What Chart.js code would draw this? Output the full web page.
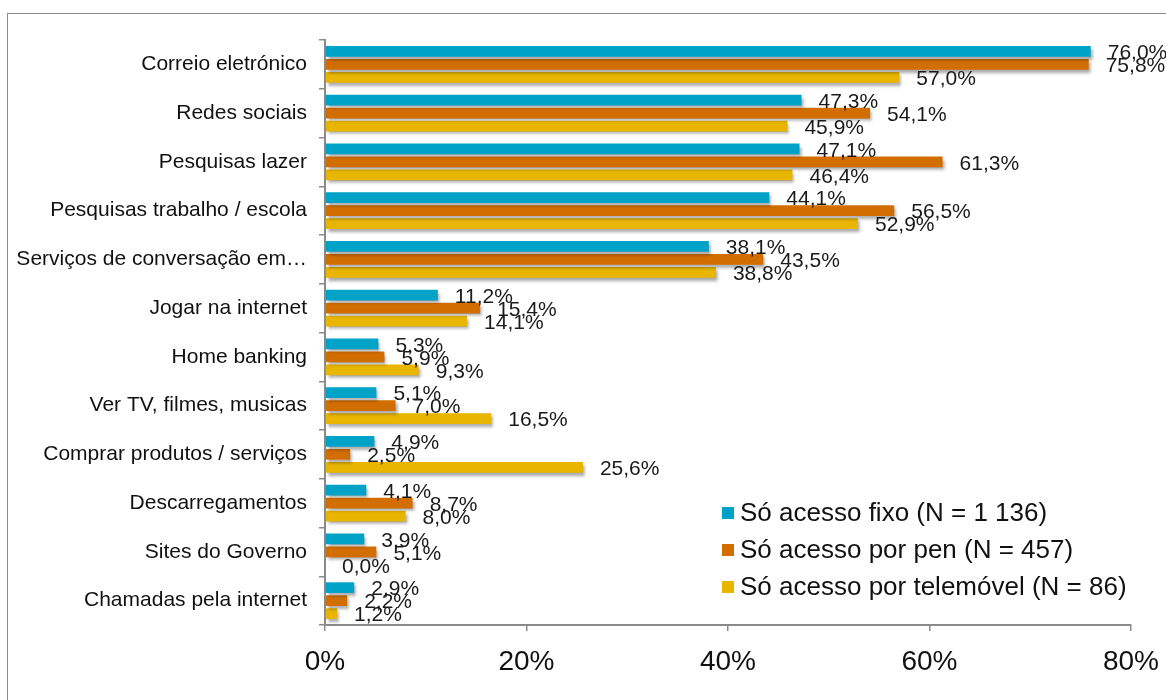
<!DOCTYPE html>
<html>
<head>
<meta charset="utf-8">
<script src="https://cdn.jsdelivr.net/npm/chart.js@4"></script>
<style>
  body { margin: 0; background: #fff; overflow: hidden; }
  #frame { position: absolute; left: 7px; top: 13px; width: 1200px; height: 720px;
           border-left: 1.5px solid #8a8a8a; border-top: 1.5px solid #8a8a8a; }
  #wrap { position: absolute; left: 0; top: 0; width: 1166px; height: 700px; }
</style>
</head>
<body>
<div id="frame"></div>
<div id="wrap"><canvas id="chart"></canvas></div>
<script>
// Usos da internet por tipo de acesso

const categories = [
  'Correio eletrónico',
  'Redes sociais',
  'Pesquisas lazer',
  'Pesquisas trabalho / escola',
  'Serviços de conversação em…',
  'Jogar na internet',
  'Home banking',
  'Ver TV, filmes, musicas',
  'Comprar produtos / serviços',
  'Descarregamentos',
  'Sites do Governo',
  'Chamadas pela internet',
];
const seriesNames = [
  'Só acesso fixo (N = 1 136)',
  'Só acesso por pen (N = 457)',
  'Só acesso por telemóvel (N = 86)',
];
const acessoFixo = [76.0, 47.3, 47.1, 44.1, 38.1, 11.2, 5.3, 5.1, 4.9, 4.1, 3.9, 2.9];
const acessoPen = [75.8, 54.1, 61.3, 56.5, 43.5, 15.4, 5.9, 7.0, 2.5, 8.7, 5.1, 2.2];
const acessoTelemovel = [57.0, 45.9, 46.4, 52.9, 38.8, 14.1, 9.3, 16.5, 25.6, 8.0, 0.0, 1.2];
const xTicks = [0, 20, 40, 60, 80];

const colors = ['#00a2c8', '#d26e00', '#e8b500'];

const fmt = (v) => v.toFixed(1).replace('.', ',') + '%';

// soft drop shadow under the bars
const shadowPlugin = {
  id: 'barShadow',
  beforeDatasetDraw: (chart) => {
    const ctx = chart.ctx;
    ctx.save();
    ctx.shadowColor = 'rgba(0,0,0,0.35)';
    ctx.shadowBlur = 3;
    ctx.shadowOffsetX = 2;
    ctx.shadowOffsetY = 3;
  },
  afterDatasetDraw: (chart) => {
    chart.ctx.restore();
  },
};

// value labels at the end of each bar
const valueLabels = {
  id: 'valueLabels',
  afterDatasetsDraw: (chart) => {
    const ctx = chart.ctx;
    ctx.save();
    ctx.font = '21px "Liberation Sans", Arial, sans-serif';
    ctx.fillStyle = '#1a1a1a';
    ctx.textAlign = 'left';
    ctx.textBaseline = 'middle';
    chart.data.datasets.forEach((ds, i) => {
      chart.getDatasetMeta(i).data.forEach((bar, j) => {
        ctx.fillText(fmt(ds.data[j]), bar.x + 17, bar.y + 2);
      });
    });
    ctx.restore();
  },
};

// legend inside the plot, lower right
const innerLegend = {
  id: 'innerLegend',
  afterDraw: (chart) => {
    const ctx = chart.ctx;
    const area = chart.chartArea;
    const x = area.left + 397;
    let y = area.bottom - 112;
    ctx.save();
    ctx.font = '26px "Liberation Sans", Arial, sans-serif';
    ctx.textBaseline = 'middle';
    chart.data.datasets.forEach((ds) => {
      ctx.fillStyle = ds.backgroundColor;
      ctx.fillRect(x, y - 6, 12, 12);
      ctx.fillStyle = '#111';
      ctx.fillText(ds.label, x + 18, y + 1);
      y += 37;
    });
    ctx.restore();
  },
};

new Chart(document.getElementById('chart'), {
  type: 'bar',
  data: {
    labels: categories,
    datasets: [
      { label: seriesNames[0], data: acessoFixo, backgroundColor: colors[0] },
      { label: seriesNames[1], data: acessoPen, backgroundColor: colors[1] },
      { label: seriesNames[2], data: acessoTelemovel, backgroundColor: colors[2] },
    ],
  },
  options: {
    indexAxis: 'y',
    responsive: true,
    maintainAspectRatio: false,
    animation: false,
    categoryPercentage: 0.8,
    barPercentage: 0.82,
    layout: { padding: { left: 0, top: 40, right: 35, bottom: 0 } },
    plugins: {
      legend: { display: false },
      tooltip: { enabled: false },
    },
    scales: {
      x: {
        min: 0,
        max: 80,
        afterBuildTicks: (scale) => {
          scale.ticks = xTicks.map((v) => ({ value: v }));
        },
        afterFit: (scale) => {
          scale.height = 75;
          scale.paddingLeft = 0;
          scale.paddingRight = 0;
        },
        grid: { drawOnChartArea: false, drawTicks: true, tickLength: 6, color: '#8a8a8a', lineWidth: 1.5 },
        border: { display: true, color: '#8a8a8a', width: 2 },
        ticks: {
          padding: 14,
          color: '#111',
          font: { family: '"Liberation Sans Narrow", "Liberation Sans", Arial, sans-serif', size: 28 },
          callback: (v) => v + '%',
        },
      },
      y: {
        afterFit: (scale) => {
          scale.width = 325;
          scale.paddingTop = 0;
          scale.paddingBottom = 0;
        },
        grid: { drawOnChartArea: false, drawTicks: true, tickLength: 6, color: '#8a8a8a', lineWidth: 1.5, offset: true },
        border: { display: true, color: '#8a8a8a', width: 2 },
        ticks: {
          padding: 12,
          color: '#111',
          font: { family: '"Liberation Sans", Arial, sans-serif', size: 21 },
        },
      },
    },
  },
  plugins: [shadowPlugin, valueLabels, innerLegend],
});
</script>
</body>
</html>
